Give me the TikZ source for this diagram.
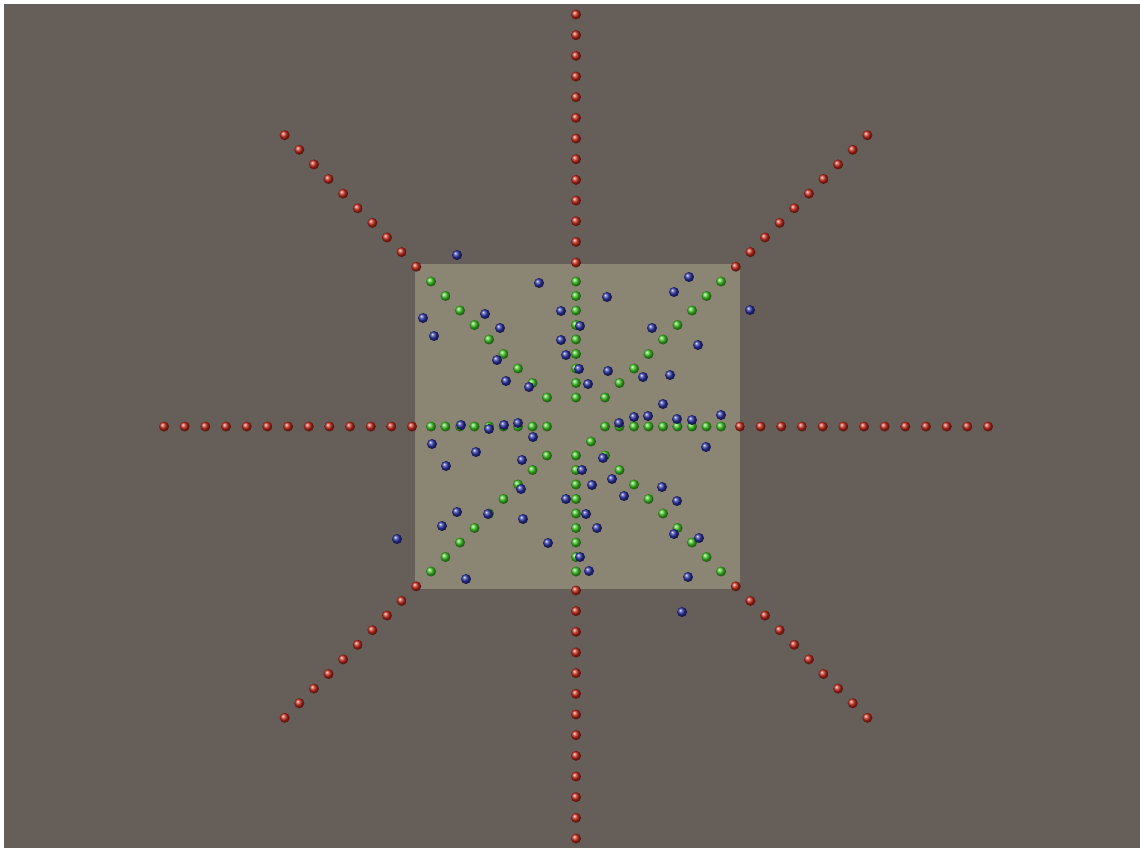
\documentclass[tikz,border=0pt]{standalone}
\usepackage{xcolor}
\usepackage{tikz}
\definecolor{floor}{HTML}{665E59}
\definecolor{plate}{HTML}{8B8574}
\definecolor{redball}{HTML}{C0281A}
\definecolor{greenball}{HTML}{3CC020}
\definecolor{blueball}{HTML}{2A30A0}
\tikzset{
  redb/.style={ball color=redball},
  greenb/.style={ball color=greenball},
  blueb/.style={ball color=blueball},
}
\newcommand{\ballr}{1mm}
\begin{document}
\begin{tikzpicture}[x=0.02cm,y=-0.02cm]
  \fill[white] (0,0) rectangle (1140,848);
  \fill[floor] (4,4) rectangle (1140,848);
  \fill[plate] (415,264) rectangle (740,589);
  \begin{scope}[shift={(576,426.5)}]
    % outer rays
    \foreach \a in {0,90,180,270}
      \foreach \k in {0,...,12}
        {\shade[redb] (\a:{412-20.67*\k}) circle (\ballr);}
    \foreach \a in {45,135,225,315}
      \foreach \k in {0,...,9}
        {\shade[redb] (\a:{412-20.67*\k}) circle (\ballr);}
    % inner rays
    \foreach \sx/\sy in {1/0,-1/0,0/1,0/-1,1/1,1/-1,-1/1,-1/-1}
      \foreach \k in {0,...,8}
        {\shade[greenb] ({\sx*(29+14.5*\k)},{\sy*(29+14.5*\k)}) circle (\ballr);}
    \shade[greenb] (15,15) circle (\ballr);
  \end{scope}
  % scattered
  \foreach \x/\y in {457/255,539/283,607/297,689/277,674/292,750/310,423/318,485/314,
      434/336,500/328,561/311,580/326,561/340,566/355,497/360,579/369,506/381,529/387,
      588/384,652/328,698/345,608/371,643/377,670/375,663/404,634/417,648/416,677/419,
      692/420,721/415,619/423,461/425,489/429,504/425,518/423,432/444,533/437,476/452,
      522/460,446/466,582/470,521/489,592/485,566/499,457/512,488/514,586/514,523/519,
      442/526,597/528,397/539,548/543,580/557,589/571,466/579,706/447,603/458,612/479,
      662/487,624/496,677/501,674/534,699/538,688/577,682/612}
    {\shade[blueb] (\x,\y) circle (\ballr);}
\end{tikzpicture}
\end{document}
